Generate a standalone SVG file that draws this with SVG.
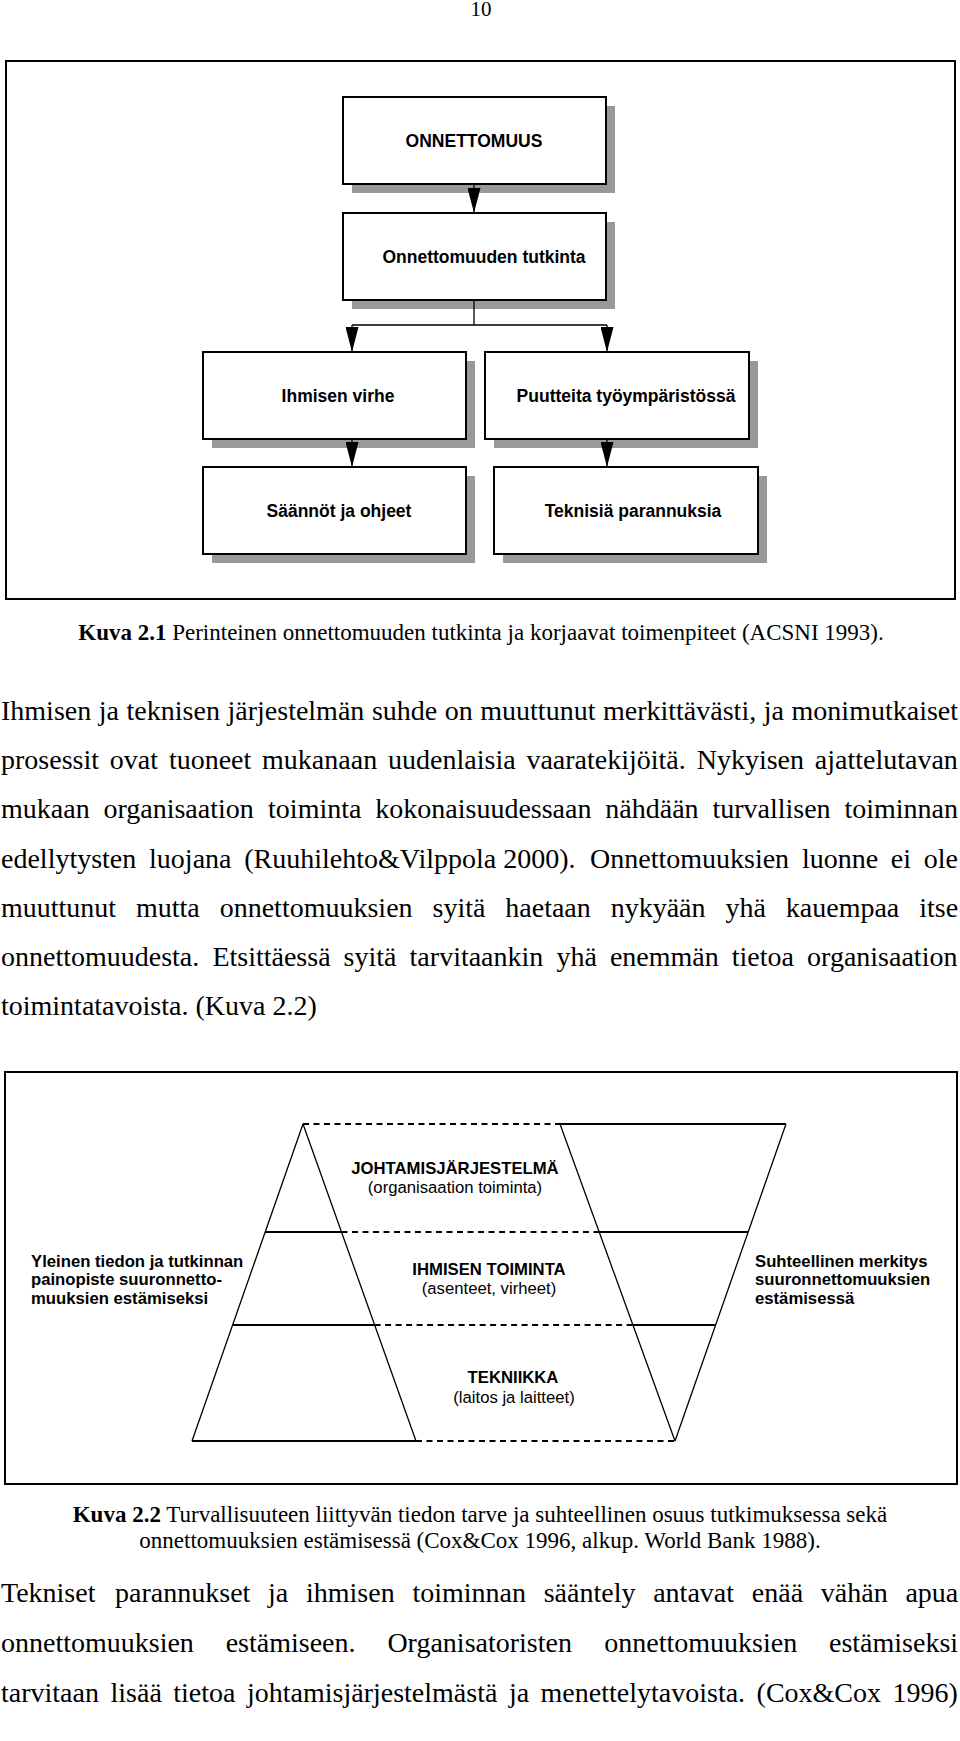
<svg xmlns="http://www.w3.org/2000/svg" width="960" height="1741" viewBox="0 0 960 1741">
<defs>
<style>
.body{font-family:"Liberation Serif","Times New Roman",serif;font-size:28px;fill:#000}
.cap{font-family:"Liberation Serif","Times New Roman",serif;font-size:23px;fill:#000}
.pg{font-family:"Liberation Serif","Times New Roman",serif;font-size:21px;fill:#000}
.bx{font-family:"Liberation Sans",Arial,sans-serif;font-size:17.5px;font-weight:bold;fill:#000}
.f2b{font-family:"Liberation Sans",Arial,sans-serif;font-size:16.7px;font-weight:bold;fill:#000}
.f2{font-family:"Liberation Sans",Arial,sans-serif;font-size:16.7px;fill:#000}
.frame{fill:none;stroke:#000;stroke-width:2}
.box{fill:#fff;stroke:#000;stroke-width:2}
.shadow{fill:#999;stroke:none}
.con{fill:none;stroke:#000;stroke-width:1.3}
.slant{fill:none;stroke:#000;stroke-width:1.3}
.solid{fill:none;stroke:#000;stroke-width:2.2}
.dash{fill:none;stroke:#000;stroke-width:2;stroke-dasharray:6 4.5}
</style>
<marker id="ah" viewBox="0 0 25 13" markerWidth="25" markerHeight="13" refX="25" refY="6.5" orient="auto" markerUnits="userSpaceOnUse">
<path d="M0,0 L25,6.5 L0,13 Z" fill="#000"/>
</marker>
</defs>
<rect width="960" height="1741" fill="#fff"/>

<text class="pg" x="481" y="16" text-anchor="middle">10</text>

<!-- Figure 1 -->
<rect class="frame" x="6" y="61" width="949" height="538"/>

<g id="n-onnettomuus">
<rect class="shadow" x="352" y="106" width="263" height="87"/>
<rect class="box" x="343" y="97" width="263" height="87"/>
<text class="bx" x="474" y="147" text-anchor="middle">ONNETTOMUUS</text>
</g>
<g id="n-tutkinta">
<rect class="shadow" x="352" y="222" width="263" height="87"/>
<rect class="box" x="343" y="213" width="263" height="87"/>
<text class="bx" x="484" y="263" text-anchor="middle">Onnettomuuden tutkinta</text>
</g>
<g id="n-virhe">
<rect class="shadow" x="212" y="361" width="263" height="87"/>
<rect class="box" x="203" y="352" width="263" height="87"/>
<text class="bx" x="338" y="402" text-anchor="middle">Ihmisen virhe</text>
</g>
<g id="n-puutteita">
<rect class="shadow" x="494" y="361" width="264" height="87"/>
<rect class="box" x="485" y="352" width="264" height="87"/>
<text class="bx" x="626" y="402" text-anchor="middle">Puutteita työympäristössä</text>
</g>
<g id="n-saannot">
<rect class="shadow" x="212" y="476" width="263" height="87"/>
<rect class="box" x="203" y="467" width="263" height="87"/>
<text class="bx" x="339" y="517" text-anchor="middle">Säännöt ja ohjeet</text>
</g>
<g id="n-teknisia">
<rect class="shadow" x="503" y="476" width="264" height="87"/>
<rect class="box" x="494" y="467" width="264" height="87"/>
<text class="bx" x="633" y="517" text-anchor="middle">Teknisiä parannuksia</text>
</g>

<g id="connectors">
<line class="con" x1="474" y1="184" x2="474" y2="213" marker-end="url(#ah)"/>
<path class="con" d="M474,300 V325 M352,325 H607"/>
<line class="con" x1="352" y1="325" x2="352" y2="352" marker-end="url(#ah)"/>
<line class="con" x1="607" y1="325" x2="607" y2="352" marker-end="url(#ah)"/>
<line class="con" x1="352" y1="439" x2="352" y2="467" marker-end="url(#ah)"/>
<line class="con" x1="607" y1="439" x2="607" y2="467" marker-end="url(#ah)"/>
</g>

<text class="cap" x="481" y="640" text-anchor="middle"><tspan font-weight="bold">Kuva 2.1</tspan> Perinteinen onnettomuuden tutkinta ja korjaavat toimenpiteet (ACSNI 1993).</text>

<!-- Paragraph 1 -->
<g id="para1">
<text class="body" y="720"><tspan x="1">Ihmisen</tspan><tspan x="98.8">ja</tspan><tspan x="126.6">teknisen</tspan><tspan x="227.5">järjestelmän</tspan><tspan x="371.9">suhde</tspan><tspan x="444.8">on</tspan><tspan x="480.3">muuttunut</tspan><tspan x="603">merkittävästi,</tspan><tspan x="763.8">ja</tspan><tspan x="791.6">monimutkaiset</tspan></text>
<text class="body" y="769"><tspan x="1">prosessit</tspan><tspan x="109.8">ovat</tspan><tspan x="168.9">tuoneet</tspan><tspan x="262.1">mukanaan</tspan><tspan x="388.1">uudenlaisia</tspan><tspan x="526.4">vaaratekijöitä.</tspan><tspan x="696.7">Nykyisen</tspan><tspan x="814.8">ajattelutavan</tspan></text>
<text class="body" y="818"><tspan x="1">mukaan</tspan><tspan x="103.4">organisaation</tspan><tspan x="268.1">toiminta</tspan><tspan x="375.3">kokonaisuudessaan</tspan><tspan x="605.3">nähdään</tspan><tspan x="712.4">turvallisen</tspan><tspan x="844.5">toiminnan</tspan></text>
<text class="body" y="868"><tspan x="1">edellytysten</tspan><tspan x="149.1">luojana</tspan><tspan x="244.3">(Ruuhilehto&amp;Vilppola 2000).</tspan><tspan x="590">Onnettomuuksien</tspan><tspan x="801.9">luonne</tspan><tspan x="890.8">ei</tspan><tspan x="923.8">ole</tspan></text>
<text class="body" y="917"><tspan x="1">muuttunut</tspan><tspan x="136">mutta</tspan><tspan x="219.7">onnettomuuksien</tspan><tspan x="432.5">syitä</tspan><tspan x="505.3">haetaan</tspan><tspan x="610.7">nykyään</tspan><tspan x="725.5">yhä</tspan><tspan x="785.8">kauempaa</tspan><tspan x="919.2">itse</tspan></text>
<text class="body" y="966"><tspan x="1">onnettomuudesta.</tspan><tspan x="212.4">Etsittäessä</tspan><tspan x="343.6">syitä</tspan><tspan x="409.6">tarvitaankin</tspan><tspan x="556.4">yhä</tspan><tspan x="609.9">enemmän</tspan><tspan x="731.8">tietoa</tspan><tspan x="807.1">organisaation</tspan></text>
<text class="body" x="1" y="1015">toimintatavoista. (Kuva 2.2)</text>
</g>

<!-- Figure 2 -->
<rect class="frame" x="5" y="1072" width="952" height="412"/>
<g id="fig2-shapes">
<path class="slant" d="M303,1124 L192,1441 M303,1124 L416,1441"/>
<path class="slant" d="M560,1124 L675,1441 M786,1124 L675,1441"/>
<path class="solid" d="M560,1124 H786 M192,1441 H416 M265,1232 H341.5 M599,1232 H748 M232.6,1325 H374.6 M633,1325 H715.6"/>
<path class="dash" d="M303,1124 H560 M416,1441 H675 M341.5,1232 H599 M374.6,1325 H633"/>
</g>
<g id="n-johtamis">
<text class="f2b" x="455" y="1174" text-anchor="middle">JOHTAMISJÄRJESTELMÄ</text>
<text class="f2" x="455" y="1193" text-anchor="middle">(organisaation toiminta)</text>
</g>
<g id="n-ihmisen">
<text class="f2b" x="489" y="1275" text-anchor="middle">IHMISEN TOIMINTA</text>
<text class="f2" x="489" y="1294" text-anchor="middle">(asenteet, virheet)</text>
</g>
<g id="n-tekniikka">
<text class="f2b" x="513" y="1383" text-anchor="middle">TEKNIIKKA</text>
<text class="f2" x="514" y="1403" text-anchor="middle">(laitos ja laitteet)</text>
</g>
<g id="n-left">
<text class="f2b" x="31" y="1267">Yleinen tiedon ja tutkinnan</text>
<text class="f2b" x="31" y="1285">painopiste suuronnetto-</text>
<text class="f2b" x="31" y="1304">muuksien estämiseksi</text>
</g>
<g id="n-right">
<text class="f2b" x="755" y="1267">Suhteellinen merkitys</text>
<text class="f2b" x="755" y="1285">suuronnettomuuksien</text>
<text class="f2b" x="755" y="1304">estämisessä</text>
</g>

<text class="cap" x="480" y="1522" text-anchor="middle"><tspan font-weight="bold">Kuva 2.2</tspan> Turvallisuuteen liittyvän tiedon tarve ja suhteellinen osuus tutkimuksessa sekä</text>
<text class="cap" x="480" y="1548" text-anchor="middle">onnettomuuksien estämisessä (Cox&amp;Cox 1996, alkup. World Bank 1988).</text>

<!-- Paragraph 2 -->
<g id="para2">
<text class="body" y="1602"><tspan x="1">Tekniset</tspan><tspan x="115.1">parannukset</tspan><tspan x="268.1">ja</tspan><tspan x="306">ihmisen</tspan><tspan x="412.4">toiminnan</tspan><tspan x="543.7">sääntely</tspan><tspan x="653.2">antavat</tspan><tspan x="751.8">enää</tspan><tspan x="820.8">vähän</tspan><tspan x="905.4">apua</tspan></text>
<text class="body" y="1652"><tspan x="1">onnettomuuksien</tspan><tspan x="225.7">estämiseen.</tspan><tspan x="387.4">Organisatoristen</tspan><tspan x="604.3">onnettomuuksien</tspan><tspan x="829">estämiseksi</tspan></text>
<text class="body" y="1702"><tspan x="1">tarvitaan</tspan><tspan x="110.5">lisää</tspan><tspan x="173.3">tietoa</tspan><tspan x="247">johtamisjärjestelmästä</tspan><tspan x="508.9">ja</tspan><tspan x="540.6">menettelytavoista.</tspan><tspan x="756.6">(Cox&amp;Cox</tspan><tspan x="892.6">1996)</tspan></text>
</g>
</svg>
